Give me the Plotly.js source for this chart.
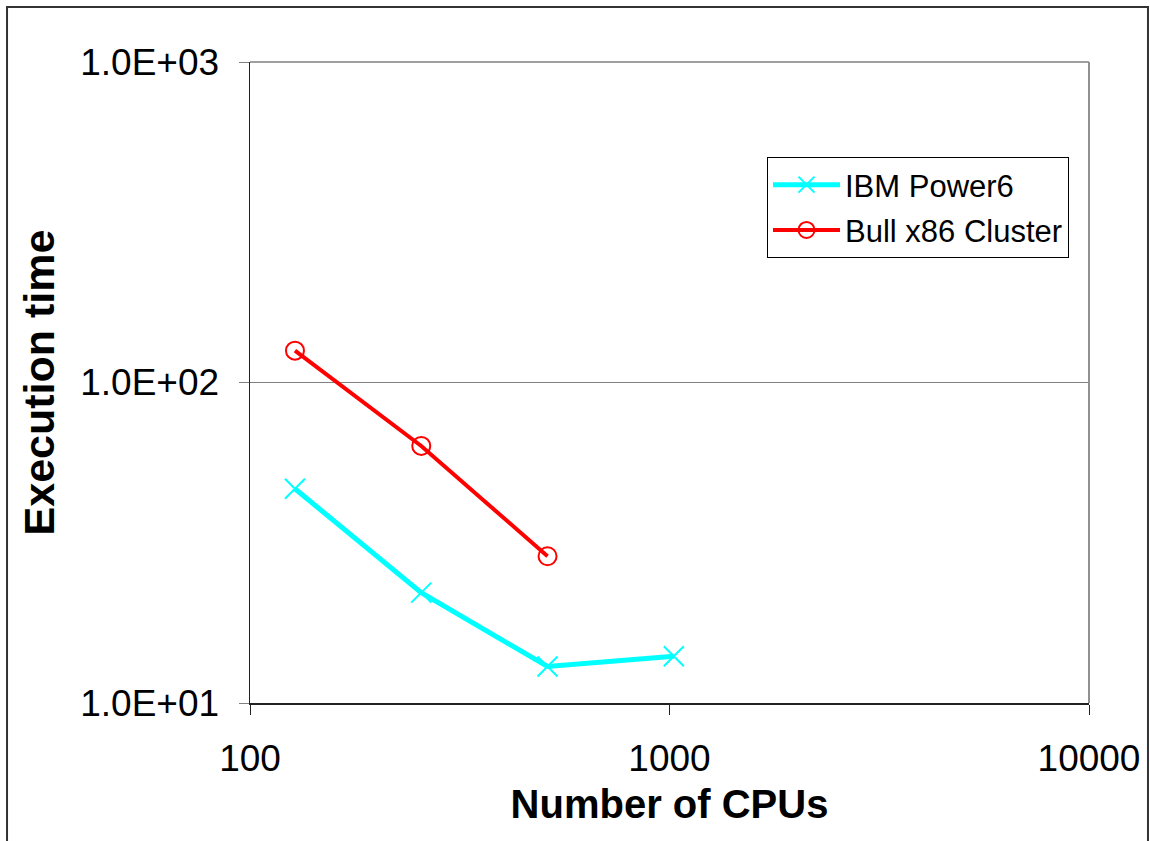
<!DOCTYPE html>
<html>
<head>
<meta charset="utf-8">
<script src="https://cdn.plot.ly/plotly-3.0.1.min.js"></script>
<style>
html,body{margin:0;padding:0;background:#fff;overflow:hidden;}
#chart{width:1150px;height:841px;}
</style>
</head>
<body>
<div id="chart"></div>
<script>
// Data
const cpusIBM = [128, 256, 512, 1024];
const timeIBM = [46.6, 22.1, 13.0, 14.0];
const cpusBull = [128, 256, 512];
const timeBull = [125.7, 63.4, 28.7];

const seriesNames = ['IBM Power6', 'Bull x86 Cluster'];
const xTickVals = [100, 1000, 10000];
const xTickText = ['100', '1000', '10000'];
const yTickVals = [10, 100, 1000];
const yTickText = ['1.0E+01', '1.0E+02', '1.0E+03'];

const FONT = 'Arial, "Liberation Sans", sans-serif';

const traces = [
  {
    x: cpusIBM, y: timeIBM, name: seriesNames[0], type: 'scatter', mode: 'lines+markers',
    legendgroup: 'a',
    line: {color: '#00FFFF', width: 5},
    marker: {symbol: 'x-thin-open', size: 20, color: '#00FFFF', line: {color: '#00FFFF', width: 2}}
  },
  {
    x: cpusBull, y: timeBull, name: seriesNames[1], type: 'scatter', mode: 'lines+markers',
    legendgroup: 'b',
    line: {color: '#FF0000', width: 4},
    marker: {symbol: 'circle-open', size: 18, color: '#FF0000', line: {color: '#FF0000', width: 2}}
  }
];

const layout = {
  width: 1150, height: 841,
  margin: {l: 250, r: 61, t: 62, b: 138},
  paper_bgcolor: '#ffffff', plot_bgcolor: '#ffffff',
  font: {family: FONT, color: '#000'},
  showlegend: true,
  legend: {
    x: 0.6162, y: 0.8518, xanchor: 'left', yanchor: 'top',
    bgcolor: '#ffffff', bordercolor: '#000', borderwidth: 1,
    font: {family: FONT, size: 31, color: '#000'},
    itemwidth: 67,
    tracegroupgap: 2
  },
  xaxis: {
    type: 'log', range: [2, 4],
    tickvals: xTickVals, ticktext: xTickText,
    ticks: 'outside', ticklen: 10, tickwidth: 1, tickcolor: '#222',
    tickfont: {family: FONT, size: 37, color: '#000'},
    ticklabelstandoff: 12,
    showline: true, linecolor: '#222', linewidth: 1.5,
    showgrid: false, zeroline: false,
    title: {text: '<b>Number of CPUs</b>', font: {family: FONT, size: 40, color: '#000'}, standoff: 12},
    automargin: false
  },
  yaxis: {
    type: 'log', range: [1, 3],
    tickvals: yTickVals, ticktext: yTickText,
    ticks: 'outside', ticklen: 10, tickwidth: 1, tickcolor: '#808080',
    tickfont: {family: FONT, size: 37, color: '#000'},
    ticklabelstandoff: 12,
    showline: true, linecolor: '#222', linewidth: 1.5,
    showgrid: true, gridcolor: '#808080', gridwidth: 1,
    zeroline: false,
    title: {text: '<b>Execution time</b>', font: {family: FONT, size: 43, color: '#000'}, standoff: 12},
    automargin: false
  },
  shapes: [
    // plot area top and right border (gray)
    {type: 'line', xref: 'paper', yref: 'paper', x0: 0, x1: 1, y0: 1, y1: 1, line: {color: '#808080', width: 1.5}},
    {type: 'line', xref: 'paper', yref: 'paper', x0: 1, x1: 1, y0: 0, y1: 1, line: {color: '#909090', width: 2}},
    // outer chart frame
    {type: 'rect', xref: 'paper', yref: 'paper', x0: -0.2896, x1: 1.0703, y0: -0.25, y1: 1.0858,
     line: {color: '#333', width: 2}, fillcolor: 'rgba(0,0,0,0)', layer: 'below'}
  ]
};

Plotly.newPlot('chart', traces, layout, {displayModeBar: false, staticPlot: true});
</script>
</body>
</html>
